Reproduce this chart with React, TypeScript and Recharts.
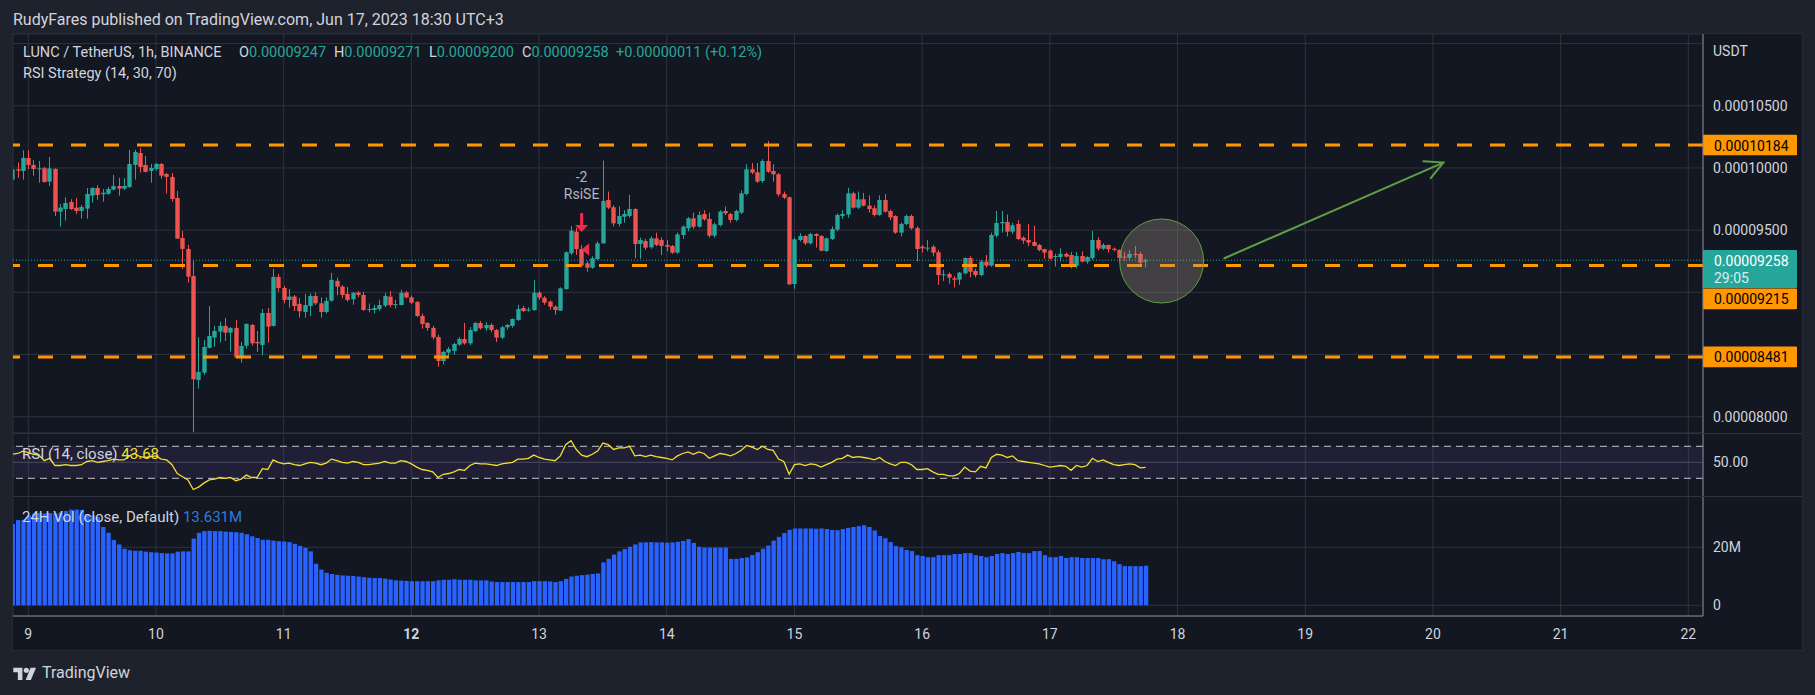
import React from "react";
import {
  ComposedChart, Bar, Line, XAxis, YAxis, CartesianGrid,
  ReferenceLine, ReferenceArea, ReferenceDot,
} from "recharts";

// ─── Data ─────────────────────────────────────────────────────────────────────
// LUNC / USDT 1h, Jun 8 21:00 → Jun 17 18:00 (UTC+3). Prices in 1e-8 USDT.
// [open, high, low, close]
const candles: [number, number, number, number][] = [
  [9906, 9995, 9900, 9989], [9989, 10045, 9919, 9978], [9976, 10142, 9906, 10080], [10080, 10142, 9992, 10024],
  [10024, 10064, 9938, 9992], [9995, 10056, 9882, 9997], [9997, 10008, 9882, 9887], [9890, 10088, 9855, 9997],
  [9992, 9997, 9614, 9649], [9649, 9710, 9528, 9681], [9670, 9764, 9577, 9718], [9726, 9748, 9662, 9670],
  [9681, 9759, 9630, 9654], [9654, 9702, 9593, 9686], [9673, 9839, 9593, 9791], [9777, 9845, 9721, 9839],
  [9839, 9861, 9745, 9783], [9788, 9831, 9729, 9801], [9793, 9847, 9783, 9831], [9826, 9944, 9820, 9855],
  [9855, 9920, 9777, 9834], [9834, 9917, 9823, 9855], [9847, 10145, 9840, 10032], [10024, 10145, 9906, 10128],
  [10120, 10161, 9962, 10008], [10024, 10096, 9965, 9968], [9976, 10032, 9882, 10000], [9992, 10040, 9978, 10032],
  [10032, 10040, 9914, 9938], [9952, 9960, 9794, 9928], [9928, 9960, 9729, 9751], [9759, 9815, 9430, 9432],
  [9437, 9493, 9188, 9349], [9349, 9381, 9078, 9126], [9131, 9255, 7875, 8301], [8295, 8640, 8226, 8360],
  [8354, 8617, 8336, 8561], [8553, 8890, 8550, 8649], [8636, 8730, 8563, 8689], [8684, 8764, 8596, 8730],
  [8730, 8794, 8609, 8676], [8676, 8720, 8523, 8714], [8714, 8778, 8470, 8475], [8475, 8601, 8435, 8569],
  [8571, 8750, 8547, 8746], [8738, 8746, 8571, 8590], [8601, 8689, 8521, 8590], [8577, 8866, 8494, 8834],
  [8834, 8874, 8596, 8724], [8730, 9188, 8725, 9124], [9124, 9148, 9006, 9035], [9035, 9051, 8912, 8939],
  [8939, 9027, 8877, 8966], [8966, 8979, 8850, 8890], [8907, 8955, 8797, 8848], [8842, 8987, 8797, 8898],
  [8890, 8992, 8810, 8971], [8971, 8997, 8898, 8912], [8912, 8960, 8797, 8842], [8842, 8960, 8830, 8931],
  [8933, 9156, 8925, 9100], [9092, 9118, 8976, 9046], [9046, 9059, 8952, 8979], [8987, 9043, 8925, 8939],
  [8944, 9000, 8900, 8998], [8998, 9010, 8960, 8979], [8979, 9005, 8850, 8858], [8858, 8910, 8840, 8866],
  [8858, 8900, 8830, 8874], [8866, 8940, 8850, 8898], [8893, 8995, 8880, 8971], [8965, 9010, 8880, 8898],
  [8898, 8940, 8870, 8905], [8898, 9020, 8895, 8997], [8998, 9010, 8950, 8960], [8960, 8975, 8905, 8917],
  [8923, 8930, 8800, 8810], [8810, 8830, 8708, 8746], [8754, 8760, 8690, 8714], [8714, 8730, 8620, 8638],
  [8641, 8660, 8403, 8448], [8448, 8530, 8420, 8521], [8515, 8560, 8490, 8545], [8529, 8595, 8500, 8585],
  [8580, 8640, 8570, 8625], [8625, 8754, 8580, 8590], [8590, 8720, 8575, 8697], [8689, 8760, 8680, 8754],
  [8754, 8770, 8700, 8711], [8711, 8760, 8690, 8738], [8738, 8750, 8680, 8697], [8697, 8705, 8600, 8636],
  [8636, 8730, 8625, 8719], [8719, 8745, 8700, 8738], [8730, 8790, 8715, 8786], [8778, 8900, 8770, 8866],
  [8874, 8890, 8840, 8850], [8853, 8880, 8845, 8861], [8858, 9100, 8850, 8997], [8997, 9010, 8940, 8957],
  [8957, 8970, 8900, 8917], [8925, 8935, 8860, 8885], [8885, 8895, 8820, 8858], [8853, 9040, 8850, 9032],
  [9027, 9330, 9020, 9322], [9314, 9533, 9300, 9496], [9488, 9520, 9300, 9348], [9348, 9380, 9200, 9215],
  [9233, 9250, 9166, 9198], [9198, 9290, 9190, 9273], [9268, 9410, 9260, 9394], [9394, 10059, 9390, 9735],
  [9742, 9810, 9670, 9681], [9684, 9700, 9530, 9555], [9550, 9690, 9530, 9614], [9608, 9660, 9560, 9630],
  [9614, 9783, 9600, 9670], [9670, 9675, 9274, 9389], [9389, 9440, 9270, 9421], [9413, 9430, 9340, 9359],
  [9362, 9450, 9350, 9434], [9434, 9480, 9370, 9381], [9421, 9440, 9300, 9373], [9381, 9420, 9330, 9367],
  [9373, 9380, 9310, 9319], [9319, 9480, 9310, 9466], [9461, 9540, 9430, 9528], [9515, 9605, 9490, 9595],
  [9595, 9640, 9510, 9528], [9528, 9650, 9520, 9622], [9630, 9660, 9575, 9587], [9590, 9640, 9440, 9456],
  [9456, 9560, 9440, 9547], [9541, 9660, 9530, 9649], [9654, 9690, 9620, 9635], [9630, 9640, 9560, 9582],
  [9582, 9665, 9570, 9654], [9641, 9820, 9630, 9796], [9791, 10030, 9780, 9989], [9989, 10040, 9950, 9962],
  [9965, 10040, 9880, 9890], [9895, 10070, 9880, 10056], [10056, 10217, 9960, 9970], [9976, 10030, 9890, 9949],
  [9949, 9960, 9770, 9788], [9791, 9810, 9750, 9761], [9764, 9770, 9060, 9064], [9067, 9440, 9029, 9426],
  [9421, 9475, 9410, 9453], [9453, 9460, 9380, 9394], [9394, 9480, 9385, 9469], [9469, 9475, 9360, 9453],
  [9453, 9460, 9330, 9335], [9332, 9440, 9325, 9434], [9429, 9530, 9420, 9509], [9504, 9635, 9490, 9622],
  [9614, 9660, 9590, 9630], [9625, 9840, 9600, 9796], [9796, 9810, 9675, 9681], [9681, 9810, 9670, 9748],
  [9748, 9800, 9690, 9697], [9697, 9780, 9640, 9670], [9676, 9700, 9610, 9622], [9622, 9780, 9615, 9742],
  [9742, 9790, 9640, 9649], [9654, 9665, 9580, 9603], [9614, 9620, 9470, 9480], [9480, 9560, 9450, 9550],
  [9550, 9625, 9540, 9614], [9614, 9625, 9505, 9515], [9517, 9530, 9250, 9348], [9367, 9380, 9320, 9354],
  [9354, 9420, 9330, 9359], [9367, 9380, 9290, 9319], [9322, 9340, 9060, 9139], [9139, 9180, 9090, 9145],
  [9147, 9160, 9070, 9118], [9113, 9130, 9040, 9102], [9102, 9165, 9060, 9158], [9153, 9280, 9145, 9276],
  [9276, 9290, 9120, 9166], [9172, 9190, 9120, 9139], [9139, 9260, 9130, 9247], [9247, 9300, 9200, 9215],
  [9215, 9480, 9205, 9461], [9456, 9654, 9440, 9558], [9555, 9654, 9480, 9566], [9566, 9625, 9450, 9488],
  [9488, 9560, 9470, 9539], [9550, 9580, 9420, 9429], [9440, 9450, 9390, 9416], [9421, 9550, 9370, 9400],
  [9405, 9535, 9370, 9373], [9381, 9390, 9330, 9340], [9348, 9350, 9270, 9319], [9335, 9345, 9265, 9271],
  [9284, 9309, 9207, 9292], [9284, 9354, 9247, 9309], [9309, 9320, 9280, 9287], [9300, 9325, 9193, 9212],
  [9212, 9325, 9193, 9292], [9292, 9330, 9240, 9247], [9247, 9290, 9230, 9284], [9276, 9493, 9260, 9421],
  [9421, 9442, 9335, 9351], [9351, 9394, 9340, 9381], [9381, 9383, 9320, 9346], [9351, 9360, 9330, 9341],
  [9341, 9346, 9255, 9276], [9287, 9325, 9255, 9284], [9279, 9340, 9255, 9309], [9309, 9373, 9276, 9300],
  [9309, 9325, 9207, 9239], [9247, 9271, 9200, 9258],
];

// RSI(14, close)
const rsi14 = [
  60, 61, 64, 62, 60, 59, 52, 55, 46, 46, 47, 46, 46, 47, 51, 52, 50, 51, 52, 54,
  53, 53, 58, 61, 57, 56, 57, 58, 54, 53, 47, 36, 32, 28, 16, 19, 24, 28, 29, 31,
  30, 31, 27, 29, 34, 31, 31, 42, 41, 53, 50, 48, 49, 47, 46, 48, 50, 49, 47, 49,
  54, 52, 50, 49, 51, 50, 47, 47, 48, 49, 51, 49, 49, 52, 51, 48, 44, 41, 40, 38,
  31, 35, 36, 38, 41, 40, 46, 49, 48, 48, 47, 46, 48, 49, 50, 54, 54, 55, 59, 56,
  54, 53, 52, 58, 72, 77, 66, 59, 57, 60, 64, 74, 72, 66, 68, 68, 70, 58, 59, 57,
  59, 57, 56, 55, 53, 58, 61, 63, 60, 63, 61, 55, 58, 61, 60, 58, 61, 65, 71, 69,
  66, 70, 66, 65, 54, 51, 35, 47, 48, 46, 48, 47, 44, 47, 50, 54, 55, 59, 56, 57,
  56, 55, 53, 56, 51, 48, 46, 50, 50, 47, 41, 41, 42, 38, 35, 35, 33, 33, 36, 44,
  39, 38, 45, 43, 56, 60, 59, 56, 58, 52, 51, 50, 49, 48, 46, 44, 45, 46, 45, 40,
  46, 44, 46, 55, 51, 53, 50, 47, 46, 47, 48, 47, 43, 43.68,
];

// 24H rolling volume, millions
const vol24h = [
  28, 29.4, 29.5, 31, 31.7, 31.8, 31.7, 31.8, 31.7, 32, 32.5, 33, 33, 32.9, 31.5, 31, 30.5, 27, 25, 22.5,
  21, 19.5, 19, 18.8, 18.8, 18.5, 18.3, 18.2, 18, 17.9, 17.9, 18.5, 18.6, 18.6, 23, 25, 25.6, 25.7, 25.6, 25.6,
  25.4, 25.3, 25.2, 25, 24.5, 23.8, 23.2, 22.6, 22.6, 22.3, 22.1, 22, 21.8, 21.2, 20.5, 19.8, 18.6, 14.3, 12.3, 11.2,
  10.8, 10.5, 10.3, 10.2, 10.1, 9.9, 9.7, 9.5, 9.4, 9.4, 9.2, 8.9, 8.6, 8.5, 8.4, 8.3, 8.3, 8.3, 8.3, 8.3,
  8.6, 8.8, 8.8, 9.0, 8.8, 8.8, 8.8, 8.6, 8.6, 8.6, 8.2, 8.0, 8.0, 8.0, 8.0, 8.0, 8.0, 8.0, 8.3, 8.3,
  8.3, 8.2, 8.0, 8.3, 9.1, 9.9, 10.2, 10.4, 10.6, 10.8, 11.0, 14.8, 16.0, 17.5, 18.6, 19.4, 20.2, 21.0, 21.7, 21.7,
  21.8, 21.7, 21.7, 21.6, 21.7, 21.9, 22.2, 22.8, 21.5, 20.2, 19.9, 19.9, 19.9, 19.9, 19.9, 16.0, 16.0, 16.3, 16.5, 17.3,
  18.3, 19.5, 20.6, 22.3, 23.6, 24.9, 26.0, 26.5, 26.5, 26.5, 26.5, 26.4, 26.5, 26.3, 26.0, 25.9, 26.3, 26.7, 27.0, 27.3,
  27.6, 27.0, 25.8, 23.9, 23.1, 21.8, 20.4, 20.0, 19.1, 18.7, 17.3, 17.0, 16.6, 16.6, 17.3, 17.3, 17.3, 17.7, 17.7, 18.0,
  18.0, 17.3, 17.0, 16.6, 17.0, 17.7, 18.0, 17.7, 18.0, 18.4, 18.0, 18.0, 18.7, 18.7, 17.3, 16.6, 16.6, 17.0, 16.3, 16.6,
  16.6, 16.3, 16.3, 16.3, 16.3, 15.9, 15.9, 15.2, 14.2, 13.5, 13.5, 13.5, 13.5, 13.631,
];

// bar index of each midnight, and its label
const dayTicks = [3, 27, 51, 75, 99, 123, 147, 171, 195, 219, 243, 267, 291, 315];
const dayLabels = ["9", "10", "11", "12", "13", "14", "15", "16", "17", "18", "19", "20", "21", "22"];

const priceTicks = [8000, 8500, 9000, 9500, 10000, 10500, 11000];
const hiddenPriceLabels = [8500, 9000, 11000]; // covered by tags / USDT in the original
const levels = [10184, 9215, 8481];
const lastPrice = 9258;

// drawings on the chart (bar index, price)
const signalBar = 107;
const circleAt = { x: 216, y: 9252 };
const arrowFrom = { x: 227.8, y: 9274 };
const arrowTo = { x: 268.95, y: 10043 };

const rows = candles.map(([o, h, l, c], i) => ({
  i, o, h, l, c, range: [l, h], rsi: rsi14[i], vol: vol24h[i],
}));

// ─── Theme ────────────────────────────────────────────────────────────────────

const OUTER = "#1e222d";
const BG = "#131722";
const GRID = "#2f333e";
const SEP = "#868993";
const TEXT = "#d1d4dc";
const UP = "#26a69a";
const DOWN = "#ef5350";
const ORANGE = "#ff9800";
const FONT = "Roboto, 'Noto Sans', sans-serif";

const X0 = 13;
const CHART_W = 1789;
const AXIS_W = 99;
const xDomain: [number, number] = [0.124, 317.76];
const noMargin = { top: 0, right: 0, bottom: 0, left: 0 };

const fmtPrice = (v: number) => (v / 1e8).toFixed(8);

// ─── Shapes ───────────────────────────────────────────────────────────────────

function Candle(props: any) {
  const { x, y, width, height, payload } = props;
  if (!payload) return null;
  const { o, h, l, c } = payload;
  const top = Math.min(y, y + height);
  const span = Math.abs(height);
  const cx = Math.round(x + width / 2 - 0.5) + 0.5;
  const py = (p: number) => top + ((h - p) / (h - l)) * span;
  const color = c >= o ? UP : DOWN;
  const bTop = py(Math.max(o, c));
  const bH = Math.max(1, py(Math.min(o, c)) - bTop);
  return (
    <g>
      <line x1={cx} x2={cx} y1={top} y2={top + span} stroke={color} strokeWidth={1} />
      <rect x={cx - 2.2} y={bTop} width={4.4} height={bH} fill={color} />
    </g>
  );
}

function PriceTag({ viewBox, text, fill, color, shift = 0 }: any) {
  if (!viewBox) return null;
  const left = viewBox.x + viewBox.width;
  const cy = viewBox.y + shift;
  return (
    <g>
      <rect x={left} y={cy - 10.3} width={94} height={20.6} fill={fill} rx={1} />
      <text x={left + 11} y={cy + 0.5} fill={color} fontSize={14} fontFamily={FONT} dominantBaseline="central">
        {text}
      </text>
    </g>
  );
}

function LastTag({ viewBox }: any) {
  if (!viewBox) return null;
  const left = viewBox.x + viewBox.width;
  const cy = viewBox.y;
  return (
    <g>
      <rect x={left} y={cy - 10.3} width={94} height={38} fill={UP} rx={1} />
      <text x={left + 11} y={cy + 0.5} fill="#ffffff" fontSize={14} fontFamily={FONT} dominantBaseline="central">
        {fmtPrice(lastPrice)}
      </text>
      <text x={left + 11} y={cy + 18} fill="#d8efec" fontSize={14} fontFamily={FONT} dominantBaseline="central">
        29:05
      </text>
    </g>
  );
}

function ArrowShape(props: any) {
  const { x1, y1, x2, y2 } = props;
  if (x1 == null) return null;
  const ang = Math.atan2(y2 - y1, x2 - x1);
  const len = 20;
  const a1 = ang + Math.PI - 0.48;
  const a2 = ang + Math.PI + 0.48;
  const col = "#5e9f45";
  return (
    <g stroke={col} strokeWidth={2} fill="none" strokeLinecap="round">
      <line x1={x1} y1={y1} x2={x2} y2={y2} />
      <polyline points={`${x2 + len * Math.cos(a1)},${y2 + len * Math.sin(a1)} ${x2},${y2} ${x2 + len * Math.cos(a2)},${y2 + len * Math.sin(a2)}`} />
    </g>
  );
}

function CircleMark({ cx, cy }: any) {
  if (cx == null) return null;
  return <circle cx={cx} cy={cy} r={42} fill="rgba(160,146,132,0.33)" stroke="#5e9f45" strokeWidth={1} />;
}

function SignalMark({ cx, cy }: any) {
  if (cx == null) return null;
  const sig = "#f2294e";
  return (
    <g>
      <text x={cx} y={cy - 68} fill="#b2b5be" fontSize={14} fontFamily={FONT} textAnchor="middle" dominantBaseline="central">-2</text>
      <text x={cx} y={cy - 51} fill="#b2b5be" fontSize={14} fontFamily={FONT} textAnchor="middle" dominantBaseline="central">RsiSE</text>
      <rect x={cx - 1.5} y={cy - 32} width={3} height={13} fill={sig} />
      <path d={`M${cx - 6.5},${cy - 20} L${cx + 6.5},${cy - 20} L${cx},${cy - 13} Z`} fill={sig} />
      <path d={`M${cx},${cy + 4.4} L${cx + 7.5},${cy - 1.8} L${cx + 7.5},${cy + 10.6} Z`} fill={sig} />
    </g>
  );
}

function RightTick({ x, y, payload, fmt, skip }: any) {
  if (skip && skip.includes(payload.value)) return null;
  return (
    <text x={x + 10} y={y} fill={TEXT} fontSize={14} fontFamily={FONT} dominantBaseline="central">
      {fmt(payload.value)}
    </text>
  );
}

function DayTick({ x, y, payload }: any) {
  const idx = dayTicks.indexOf(payload.value);
  const label = dayLabels[idx] ?? "";
  return (
    <text x={x} y={y + 18} fill={TEXT} fontSize={14} fontFamily={FONT} textAnchor="middle"
      dominantBaseline="central" fontWeight={label === "12" ? 700 : 400}>
      {label}
    </text>
  );
}

// ─── Small HTML bits ──────────────────────────────────────────────────────────

function Txt({ x, y, children, color = TEXT, size = 14.5, weight = 400 }: any) {
  return (
    <div style={{
      position: "absolute", left: x, top: y, transform: "translateY(-50%)",
      color, fontSize: size, fontWeight: weight, lineHeight: 1, whiteSpace: "nowrap", fontFamily: FONT,
    }}>
      {children}
    </div>
  );
}

function OhlcItem({ x, k, v }: { x: number; k: string; v: string }) {
  return (
    <Txt x={x} y={53}>
      {k}<span style={{ color: UP }}>{v}</span>
    </Txt>
  );
}

// ─── App ──────────────────────────────────────────────────────────────────────

export default function App() {
  return (
    <div style={{ position: "absolute", left: 0, top: 0, width: 1815, height: 695, background: OUTER, overflow: "hidden" }}>
      <Txt x={13} y={20} size={16}>RudyFares published on TradingView.com, Jun 17, 2023 18:30 UTC+3</Txt>

      {/* chart panel */}
      <div style={{ position: "absolute", left: X0, top: 34, width: CHART_W, height: 616, background: BG, outline: "1px solid #262a35" }} />

      {/* ── Price pane ── */}
      <div style={{ position: "absolute", left: X0, top: 34 }}>
        <ComposedChart width={CHART_W} height={399} data={rows} margin={noMargin}>
          <CartesianGrid stroke={GRID} />
          <XAxis dataKey="i" type="number" domain={xDomain} ticks={dayTicks} allowDataOverflow hide />
          <YAxis
            orientation="right" width={AXIS_W} domain={[7869, 11077]} ticks={priceTicks}
            allowDataOverflow axisLine={{ stroke: SEP }} tickLine={false} tickSize={0} tickMargin={0}
            tick={(p: any) => <RightTick {...p} fmt={fmtPrice} skip={hiddenPriceLabels} />}
          />
          <ReferenceDot x={circleAt.x} y={circleAt.y} r={42} shape={(p: any) => <CircleMark {...p} />} />
          {levels.map((lv, k) => (
            <ReferenceLine
              key={lv} y={lv} stroke={ORANGE} strokeWidth={3} strokeDasharray="15 18"
              label={(p: any) => <PriceTag {...p} text={fmtPrice(lv)} fill={ORANGE} color="#000" shift={k === 1 ? 33.3 : 0} />}
            />
          ))}
          <ReferenceLine y={lastPrice} stroke={UP} strokeWidth={1} strokeDasharray="1 2"
            label={(p: any) => <LastTag {...p} />} />
          <Bar dataKey="range" barSize={4} isAnimationActive={false} shape={(p: any) => <Candle {...p} />} />
          <ReferenceLine segment={[arrowFrom, arrowTo]} ifOverflow="visible" shape={(p: any) => <ArrowShape {...p} />} />
          <ReferenceDot x={signalBar} y={candles[signalBar][1]} r={1} shape={(p: any) => <SignalMark {...p} />} />
        </ComposedChart>
      </div>

      {/* ── RSI pane ── */}
      <div style={{ position: "absolute", left: X0, top: 433 }}>
        <ComposedChart width={CHART_W} height={63} data={rows} margin={noMargin}>
          <CartesianGrid stroke={GRID} horizontal={false} />
          <XAxis dataKey="i" type="number" domain={xDomain} ticks={dayTicks} allowDataOverflow hide />
          <YAxis
            orientation="right" width={AXIS_W} domain={[7.9, 86.6]} ticks={[50]} allowDataOverflow
            axisLine={{ stroke: SEP }} tickLine={false} tickSize={0} tickMargin={0}
            tick={(p: any) => <RightTick {...p} fmt={(v: number) => v.toFixed(2)} />}
          />
          <ReferenceArea y1={30} y2={70} fill="#7e57c2" fillOpacity={0.13} stroke="none" />
          <ReferenceLine y={50} stroke="#4a4d5a" />
          <ReferenceLine y={70} stroke="#c3c5cc" strokeDasharray="7 5" />
          <ReferenceLine y={30} stroke="#c3c5cc" strokeDasharray="7 5" />
          <Line dataKey="rsi" type="linear" stroke="#f0df2f" strokeWidth={1.3} dot={false} isAnimationActive={false} />
        </ComposedChart>
      </div>

      {/* ── Volume pane + time axis ── */}
      <div style={{ position: "absolute", left: X0, top: 496 }}>
        <ComposedChart width={CHART_W} height={154} data={rows} margin={noMargin}>
          <CartesianGrid stroke={GRID} />
          <XAxis
            dataKey="i" type="number" domain={xDomain} ticks={dayTicks} allowDataOverflow height={34}
            axisLine={{ stroke: SEP }} tickLine={false} tickSize={0} tickMargin={0}
            tick={(p: any) => <DayTick {...p} />}
          />
          <YAxis
            orientation="right" width={AXIS_W} domain={[-3.7, 37.7]} ticks={[0, 20]} allowDataOverflow
            axisLine={{ stroke: SEP }} tickLine={false} tickSize={0} tickMargin={0}
            tick={(p: any) => <RightTick {...p} fmt={(v: number) => (v === 0 ? "0" : `${v}M`)} />}
          />
          <Bar dataKey="vol" fill="#2962ff" barSize={4.3} isAnimationActive={false} />
        </ComposedChart>
      </div>

      {/* pane separators */}
      <div style={{ position: "absolute", left: X0, top: 433, width: CHART_W, height: 1, background: GRID }} />
      <div style={{ position: "absolute", left: X0, top: 496, width: CHART_W, height: 1, background: GRID }} />

      {/* ── Legends ── */}
      <Txt x={1713} y={51} size={14}>USDT</Txt>
      <Txt x={23} y={53}>LUNC / TetherUS, 1h, BINANCE</Txt>
      <OhlcItem x={239} k="O" v="0.00009247" />
      <OhlcItem x={334} k="H" v="0.00009271" />
      <OhlcItem x={429} k="L" v="0.00009200" />
      <OhlcItem x={522} k="C" v="0.00009258" />
      <Txt x={616} y={53} color={UP}>+0.00000011 (+0.12%)</Txt>
      <Txt x={23} y={74}>RSI Strategy (14, 30, 70)</Txt>

      <Txt x={22} y={454} size={15}>RSI (14, close) <span style={{ color: "#f0df2f" }}>43.68</span></Txt>
      <Txt x={22} y={517} size={15}>24H Vol (close, Default) <span style={{ color: "#2e7bdc" }}>13.631M</span></Txt>

      {/* ── TradingView mark ── */}
      <div style={{ position: "absolute", left: 13, top: 666 }}>
        <svg width={24} height={13} viewBox="0 0 36 20">
          <path d="M14 20H7V8H0V1h14z" fill={TEXT} />
          <circle cx={20} cy={5} r={4} fill={TEXT} />
          <path d="M27 20h-8l7.5-19h8.5z" fill={TEXT} />
        </svg>
      </div>
      <Txt x={42} y={673} size={16}>TradingView</Txt>
    </div>
  );
}
